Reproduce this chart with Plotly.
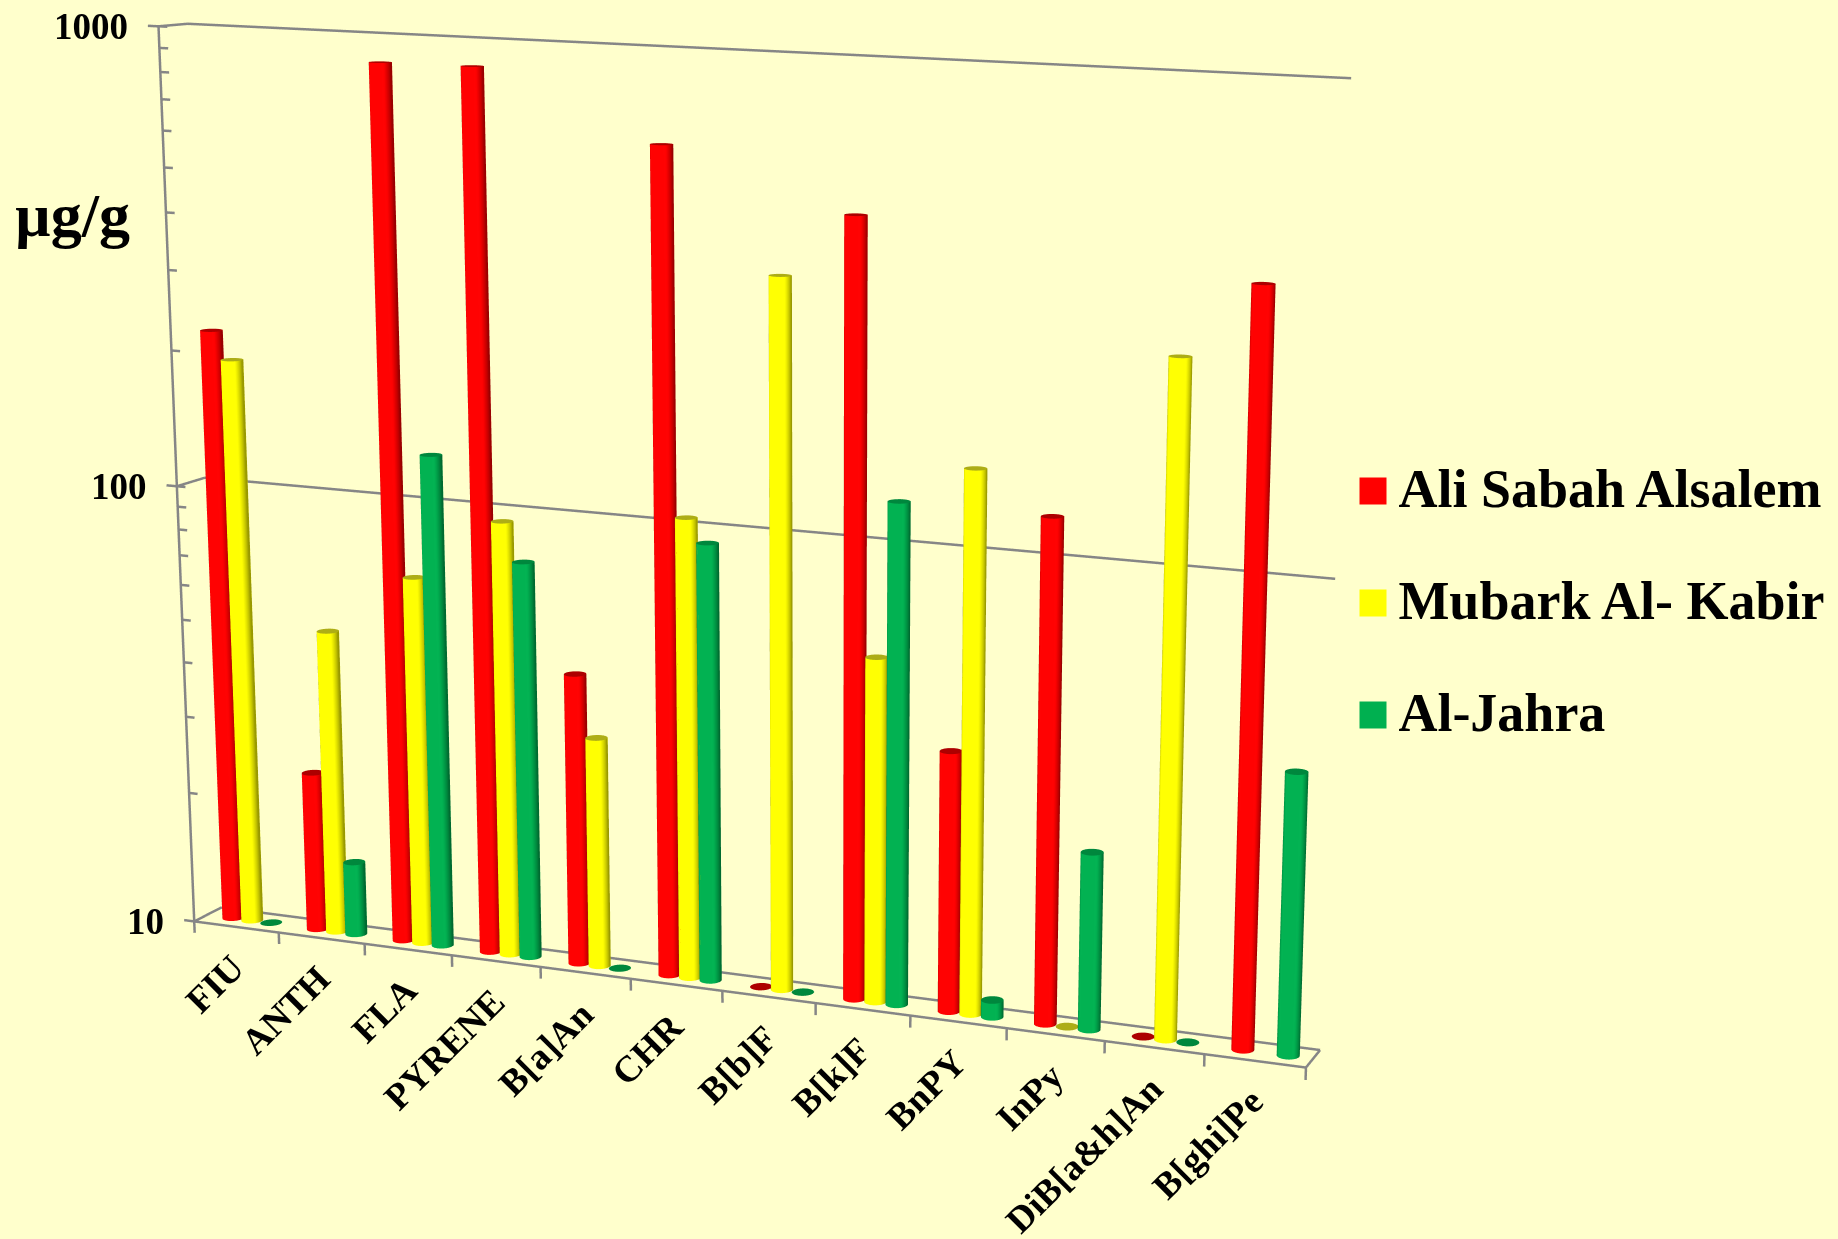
import numpy as np
import plotly.graph_objects as go

categories = ["FIU", "ANTH", "FLA", "PYRENE", "B[a]An", "CHR", "B[b]F", "B[k]F",
              "BnPY", "InPy", "DiB[a&h]An", "B[ghi]Pe"]
ali_sabah = [220, 23.1, 876, 879, 45, 635, 10, 480, 37.3, 123, 10, 393]
mubark = [191, 49.2, 68, 94.4, 32.8, 104.5, 352, 57.2, 150, 10, 274, None]
al_jahra = [10, 14.7, 128, 77.6, 10, 93, 10, 124, 10.9, 24.4, 10, 40.4]
series_names = ["Ali Sabah Alsalem", "Mubark Al- Kabir", "Al-Jahra"]
series_values = [ali_sabah, mubark, al_jahra]
series_colors = ["#FF0000", "#FFFF00", "#00B050"]
cap_colors = ["#FF0000", "#FFFF20", "#00C85A"]
z_ticks = [10, 100, 1000]
minor_ticks = [20, 30, 40, 50, 60, 70, 80, 90, 200, 300, 400, 500, 600, 700, 800, 900]

BG = "#FFFFCC"
LINE = "#868686"
SERIF = "Liberation Serif"
RADIUS = 0.11
BAR_STEP = 0.225
BAR_CENTER = 0.53
DEPTH = 0.5
SEGMENTS = 36
n_cat = len(categories)

# The page shows a window onto a taller canvas: a long lens needs a large viewport
# because the 3D scene has a fixed field of view.
PAGE_W, PAGE_H = 2436, 2850
TOP_SHIFT = 875


def page_x(px):
    return px / PAGE_W


def page_y(py):
    return 1 - (py + TOP_SHIFT) / PAGE_H


def cylinder(cx, cy, value, side, cap):
    """Vertical cylinder from the floor value 10 up to value, with its own cap ring."""
    theta = np.linspace(0, 2 * np.pi, SEGMENTS, endpoint=False)
    ring_x = cx + RADIUS * np.cos(theta)
    ring_y = cy + RADIUS * np.sin(theta)
    xs, ys, zs, colors, i, j, k = [], [], [], [], [], [], []
    if value > 10:
        xs += list(ring_x) * 2
        ys += list(ring_y) * 2
        zs += [10] * SEGMENTS + [value] * SEGMENTS
        colors += [side] * (2 * SEGMENTS)
        for s in range(SEGMENTS):
            t = (s + 1) % SEGMENTS
            i += [s, t]
            j += [t, t + SEGMENTS]
            k += [s + SEGMENTS, s + SEGMENTS]
    base = len(xs)
    xs += list(ring_x) + [cx]
    ys += list(ring_y) + [cy]
    zs += [value] * (SEGMENTS + 1)
    colors += [cap] * (SEGMENTS + 1)
    for s in range(SEGMENTS):
        i.append(base + s)
        j.append(base + (s + 1) % SEGMENTS)
        k.append(base + SEGMENTS)
    return xs, ys, zs, colors, i, j, k


fig = go.Figure()

for n, values in enumerate(series_values):
    X, Y, Z, C, I, J, K = [], [], [], [], [], [], []
    for c, value in enumerate(values):
        if value is None:
            continue
        xs, ys, zs, colors, i, j, k = cylinder(c + BAR_CENTER + (n - 1) * BAR_STEP, DEPTH / 2, value,
                                               series_colors[n], cap_colors[n])
        off = len(X)
        X += xs; Y += ys; Z += zs; C += colors
        I += [v + off for v in i]; J += [v + off for v in j]; K += [v + off for v in k]
    fig.add_trace(go.Mesh3d(
        x=X, y=Y, z=Z, i=I, j=J, k=K, vertexcolor=C, name=series_names[n], flatshading=False,
        lighting=dict(ambient=0.6, diffuse=0.55, specular=0.05, roughness=0.8, fresnel=0.0),
        lightposition=dict(x=45000, y=-95000, z=20000), hoverinfo="skip"))

# Frame of the chart: floor, back wall, side wall, value axis and its ticks
fx, fy, fz = [], [], []


def segment(x0, y0, z0, x1, y1, z1):
    fx.extend([x0, x1, None]); fy.extend([y0, y1, None]); fz.extend([z0, z1, None])


segment(0, 0, 10, n_cat, 0, 10)
segment(n_cat, 0, 10, n_cat, DEPTH, 10)
segment(0, 0, 10, 0, 0, 1000)
for v in z_ticks:
    segment(0, DEPTH, v, n_cat, DEPTH, v)
    segment(0, 0, v, 0, DEPTH, v)
    segment(-0.12, 0, v, 0.1, 0, v)
for v in minor_ticks:
    segment(0, 0, v, 0.1, 0, v)
for c in range(n_cat + 1):
    segment(c, 0, 10, c, 0, 9.4)
fig.add_trace(go.Scatter3d(x=fx, y=fy, z=fz, mode="lines", line=dict(color=LINE, width=5),
                           hoverinfo="skip", showlegend=False))

# Colour key on hidden cartesian axes: square swatches, then their labels
fig.add_trace(go.Scatter(
    x=[0, 0, 0], y=[2, 1, 0], mode="markers", cliponaxis=False,
    marker=dict(symbol="square", size=27, color=series_colors),
    xaxis="x", yaxis="y", showlegend=False, hoverinfo="skip"))
fig.add_trace(go.Scatter(
    x=[0.2, 0.2, 0.2], y=[1.98, 0.98, -0.02], mode="text", cliponaxis=False,
    text=series_names, textposition="middle right",
    textfont=dict(family=SERIF, size=54, color="black", weight=700),
    xaxis="x", yaxis="y", showlegend=False, hoverinfo="skip"))

annotations = [dict(x=c + 0.5, y=0, z=1, text=name, textangle=-45, showarrow=False,
                    xanchor="right", yanchor="top", yshift=-17, xshift=19,
                    font=dict(family=SERIF, size=37, color="black", weight=700))
               for c, name in enumerate(categories)]
annotations += [dict(x=0, y=0, z=float(np.log10(v)), text=str(v), showarrow=False,
                     xanchor="right", yanchor="middle", xshift=-28,
                     font=dict(family=SERIF, size=37, color="black", weight=700))
                for v in z_ticks]

axis_common = dict(showbackground=False, showspikes=False, title="", showticklabels=False,
                   zeroline=False, showgrid=False, showline=False, ticks="")
fig.update_layout(
    width=PAGE_W, height=PAGE_H, margin=dict(l=0, r=0, t=0, b=0), paper_bgcolor=BG,
    plot_bgcolor="rgba(0,0,0,0)", showlegend=False,
    scene=dict(
        domain=dict(x=[0, 1], y=[0, 1]),
        xaxis=dict(range=[-0.3, n_cat + 0.3], **axis_common),
        yaxis=dict(range=[-0.05, DEPTH + 0.05], **axis_common),
        zaxis=dict(type="log", range=[0.93, 3.07], **axis_common),
        aspectmode="manual", aspectratio=dict(x=2.52, y=0.12, z=1.972),
        camera=dict(eye=dict(x=2.79, y=-5.969, z=1.379), center=dict(x=0.811, y=0.583, z=-0.084),
                    up=dict(x=-0.084, y=0.1929, z=0.978)),
        annotations=annotations,
    ),
    xaxis=dict(domain=[page_x(1373), page_x(1500)], range=[0, 1], visible=False, fixedrange=True),
    yaxis=dict(domain=[page_y(771), page_y(435)], range=[-0.5, 2.5], visible=False, fixedrange=True),
    annotations=[dict(xref="paper", yref="paper", x=page_x(72), y=page_y(215), text="µg/g", showarrow=False,
                      xanchor="center", yanchor="middle",
                      font=dict(family=SERIF, size=62, color="black", weight=700))],
)
post = f"""
var g = document.getElementById('{{plot_id}}');
g.style.marginTop = '-{TOP_SHIFT}px';
document.documentElement.style.overflow = 'hidden';
document.body.style.overflow = 'hidden';
document.documentElement.style.height = '1239px';
document.body.style.height = '1239px';
"""
fig.write_html("out.html", post_script=post)
